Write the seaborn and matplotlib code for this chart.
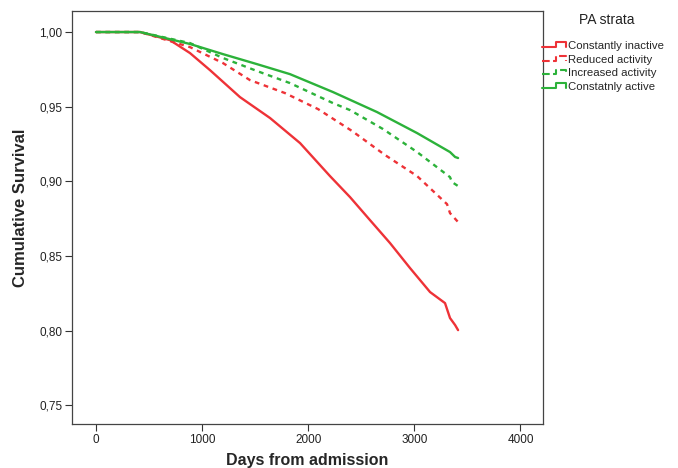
import matplotlib
matplotlib.use("Agg")
import matplotlib.pyplot as plt
import seaborn as sns
import pandas as pd
from matplotlib.lines import Line2D
from matplotlib.legend_handler import HandlerBase

# ---- data ----
inactive_days = [0, 415, 697, 886, 1074, 1357, 1640, 1923, 2205, 2394, 2582, 2771, 2959, 3148, 3289, 3336, 3384, 3412]
inactive_surv = [1.0, 1.0, 0.9946, 0.9859, 0.9745, 0.9564, 0.9424, 0.9256, 0.9035, 0.8894, 0.874, 0.8586, 0.8419, 0.8258, 0.8184, 0.8084, 0.8037, 0.8003]

reduced_days = [0, 415, 575, 886, 1197, 1451, 1781, 2092, 2413, 2724, 3026, 3308, 3336, 3412]
reduced_surv = [1.0, 1.0, 0.9966, 0.9899, 0.9792, 0.9678, 0.9591, 0.9484, 0.9337, 0.9176, 0.9035, 0.8847, 0.8787, 0.8727]

increased_days = [0, 415, 886, 1197, 1517, 1828, 2233, 2394, 2705, 3026, 3336, 3355, 3412]
increased_surv = [1.0, 1.0, 0.9926, 0.9826, 0.9739, 0.9658, 0.9524, 0.9477, 0.9350, 0.9196, 0.9028, 0.8995, 0.8968]

active_days = [0, 415, 886, 1197, 1517, 1828, 2233, 2648, 3026, 3336, 3384, 3412]
active_surv = [1.0, 1.0, 0.9920, 0.9852, 0.9785, 0.9718, 0.9598, 0.9464, 0.9323, 0.9196, 0.9163, 0.9156]

labels = ["Constantly inactive", "Reduced activity", "Increased activity", "Constatnly active"]
legend_title = "PA strata"
x_ticks = [0, 1000, 2000, 3000, 4000]
y_ticks = [0.75, 0.80, 0.85, 0.90, 0.95, 1.00]
y_tick_labels = ["0,75", "0,80", "0,85", "0,90", "0,95", "1,00"]

RED = "#EE3237"
GREEN = "#2CB23A"

sns.set_style("white")
plt.rcParams["font.family"] = ["Liberation Sans", "DejaVu Sans"]

fig = plt.figure(figsize=(6.78, 4.68), dpi=100)
ax = fig.add_axes([0.1062, 0.094, 0.801 - 0.1062, 0.9765 - 0.094])

series = [
    (inactive_days, inactive_surv, labels[0], RED, "-"),
    (reduced_days, reduced_surv, labels[1], RED, (0, (2, 2))),
    (increased_days, increased_surv, labels[2], GREEN, (0, (2, 2))),
    (active_days, active_surv, labels[3], GREEN, "-"),
]
for d, s, lab, col, ls in series:
    df = pd.DataFrame({"days": d, "surv": s})
    sns.lineplot(data=df, x="days", y="surv", ax=ax, color=col, linewidth=1.7,
                 linestyle=ls, estimator=None, sort=False, legend=False)

ax.set_xlim(-226, 4213)
ax.set_ylim(0.7374, 1.0141)
ax.set_xticks(x_ticks)
ax.set_xticklabels([str(t) for t in x_ticks])
ax.set_yticks(y_ticks)
ax.set_yticklabels(y_tick_labels)
ax.tick_params(axis="both", which="major", direction="out", length=5, width=0.8,
               colors="#333333", labelsize=8.5, labelcolor="#222222", pad=2,
               bottom=True, left=True)

for sp in ax.spines.values():
    sp.set_color("#444444")
    sp.set_linewidth(0.9)

ax.set_xlabel("Days from admission", fontsize=11.5, fontweight="bold")
ax.set_ylabel("Cumulative Survival", fontsize=12, fontweight="bold")
ax.xaxis.set_label_coords(0.5, -0.07)
ax.yaxis.set_label_coords(-0.094, 0.524)


class StepHandler(HandlerBase):
    def create_artists(self, legend, orig_handle, xdescent, ydescent, width, height, fontsize, trans):
        x0 = -xdescent
        y_lo = -ydescent + height * 0.25
        y_hi = -ydescent + height * 0.85
        xs = [x0, x0 + width * 0.55, x0 + width * 0.55, x0 + width * 0.95, x0 + width * 0.95]
        ys = [y_lo, y_lo, y_hi, y_hi, y_lo]
        ln = Line2D(xs, ys, color=orig_handle.get_color(), lw=1.5,
                    linestyle=orig_handle.get_linestyle())
        ln.set_transform(trans)
        return [ln]


handles = [Line2D([0], [0], color=c, lw=1.5, linestyle=ls) for _, _, _, c, ls in series]
fig.text(607 / 678, 1 - 20 / 468, legend_title, fontsize=10, ha="center", va="center",
         color="#222222")
leg = fig.legend(handles, labels, loc="upper left",
                 bbox_to_anchor=(542 / 678, 1 - 41 / 468), frameon=False, fontsize=8.2,
                 handlelength=2.2, handletextpad=0.1, labelspacing=0.32,
                 borderaxespad=0.0, borderpad=0.0,
                 handler_map={Line2D: StepHandler()})

fig.savefig("out.png", dpi=100)
